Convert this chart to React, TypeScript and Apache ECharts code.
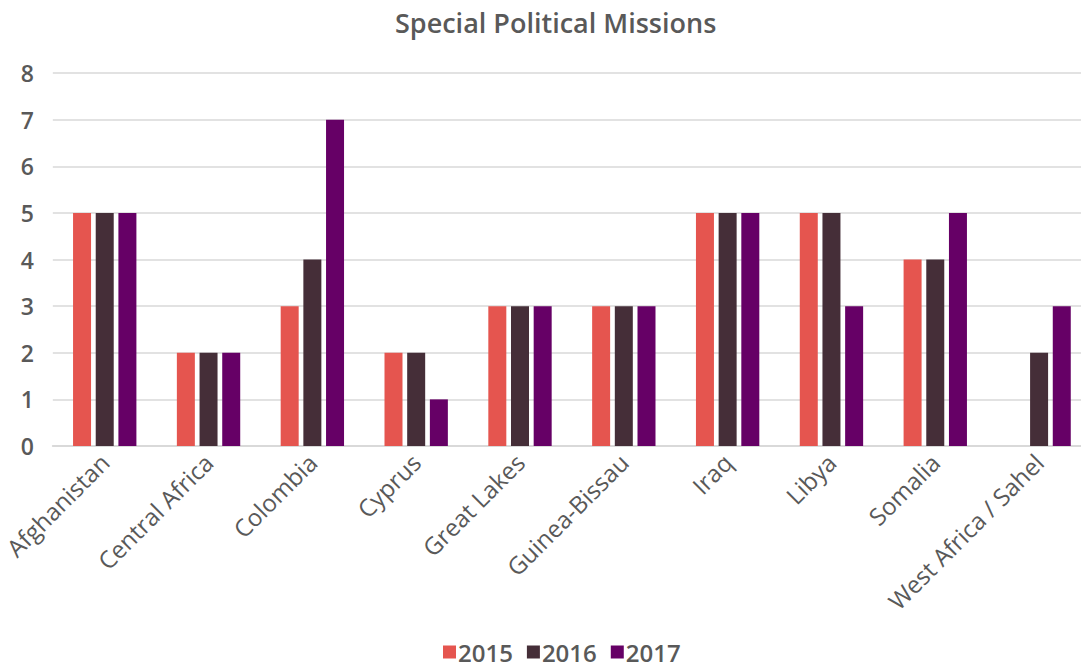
import React, { useEffect, useRef } from "react";
import * as echarts from "echarts";

const categories = [
  "Afghanistan",
  "Central Africa",
  "Colombia",
  "Cyprus",
  "Great Lakes",
  "Guinea-Bissau",
  "Iraq",
  "Libya",
  "Somalia",
  "West Africa / Sahel",
];
const values2015 = [5, 2, 3, 2, 3, 3, 5, 5, 4, null];
const values2016 = [5, 2, 4, 2, 3, 3, 5, 5, 4, 2];
const values2017 = [5, 2, 7, 1, 3, 3, 5, 3, 5, 3];
const yTicks = [0, 1, 2, 3, 4, 5, 6, 7, 8];

const FONT = "'Open Sans', Lato, sans-serif";
const TEXT = "#595959";

export default function App() {
  const ref = useRef<HTMLDivElement>(null);
  useEffect(() => {
    if (!ref.current) return;
    const chart = echarts.init(ref.current, undefined, { renderer: "svg" });
    const bar = (name: string, data: (number | null)[], color: string) => ({
      name,
      type: "bar",
      data,
      barWidth: 18,
      barGap: "26%",
      itemStyle: { color },
    });
    chart.setOption({
      animation: false,
      backgroundColor: "#ffffff",
      title: {
        text: "Special Political Missions",
        left: 390,
        top: 4,
        textStyle: { fontFamily: FONT, fontSize: 27, fontWeight: 600, color: TEXT },
      },
      legend: {
        bottom: -2,
        left: 438,
        itemWidth: 13,
        itemHeight: 13,
        itemGap: 14,
        icon: "rect",
        textStyle: { fontFamily: FONT, fontSize: 24, fontWeight: 600, color: TEXT, padding: [0, 0, 0, -3] },
      },
      grid: { left: 52, right: 0, top: 73, bottom: 221, containLabel: false },
      xAxis: {
        type: "category",
        data: categories,
        axisTick: { show: false },
        axisLine: { lineStyle: { color: "#d9d9d9", width: 2 } },
        axisLabel: {
          rotate: 45,
          interval: 0,
          margin: 12,
          fontFamily: FONT,
          fontSize: 24,
          fontWeight: 500,
          color: TEXT,
        },
      },
      yAxis: {
        type: "value",
        min: yTicks[0],
        max: yTicks[yTicks.length - 1],
        interval: 1,
        axisLine: { show: false },
        axisTick: { show: false },
        splitLine: { lineStyle: { color: "#d9d9d9", width: 1.5 } },
        axisLabel: {
          margin: 19,
          fontFamily: FONT,
          fontSize: 23,
          fontWeight: 600,
          color: TEXT,
        },
      },
      series: [
        bar("2015", values2015, "#E5554F"),
        bar("2016", values2016, "#452E38"),
        bar("2017", values2017, "#660066"),
      ],
    });
    return () => chart.dispose();
  }, []);
  return (
    <div style={{ position: "absolute", left: 0, top: 0, width: 1081, height: 667, overflow: "hidden" }}>
      <div ref={ref} style={{ width: 1091, height: 667 }} />
    </div>
  );
}
